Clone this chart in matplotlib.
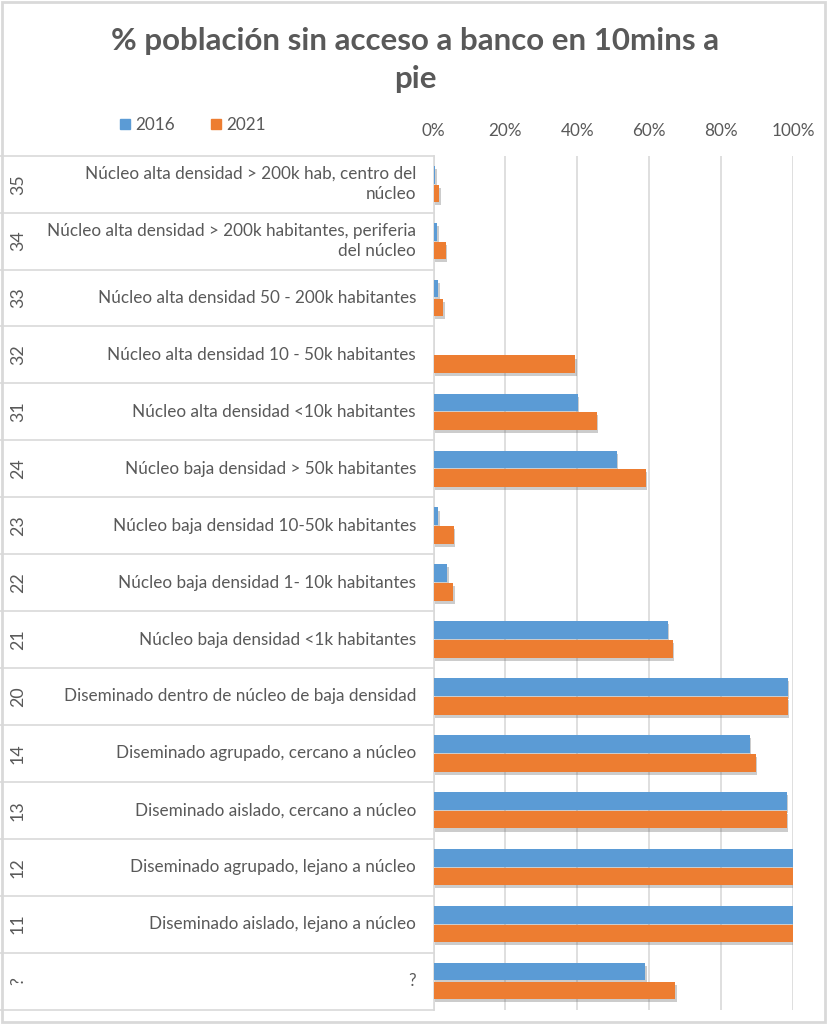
import matplotlib
matplotlib.use('Agg')
import matplotlib.pyplot as plt
import matplotlib.patheffects as pe
from matplotlib.patches import Patch, Rectangle
from matplotlib.lines import Line2D

# datos (fraccion de poblacion)
codigos = ['35', '34', '33', '32', '31', '24', '23', '22', '21', '20', '14', '13', '12', '11', '?']
etiquetas = ['Núcleo alta densidad > 200k hab, centro del\nnúcleo',
             'Núcleo alta densidad > 200k habitantes, periferia\ndel núcleo',
             'Núcleo alta densidad 50 - 200k habitantes',
             'Núcleo alta densidad 10 - 50k habitantes',
             'Núcleo alta densidad <10k habitantes',
             'Núcleo baja densidad > 50k habitantes',
             'Núcleo baja densidad 10-50k habitantes',
             'Núcleo baja densidad 1- 10k habitantes',
             'Núcleo baja densidad <1k habitantes',
             'Diseminado dentro de núcleo de baja densidad',
             'Diseminado agrupado, cercano a núcleo',
             'Diseminado aislado, cercano a núcleo',
             'Diseminado agrupado, lejano a núcleo',
             'Diseminado aislado, lejano a núcleo',
             '?']
v2016 = [0.005, 0.011, 0.013, 0.001, 0.402, 0.510, 0.013, 0.038, 0.651, 0.985, 0.880, 0.982, 1.0, 1.0, 0.589]
v2021 = [0.016, 0.034, 0.027, 0.394, 0.454, 0.590, 0.057, 0.055, 0.666, 0.985, 0.896, 0.982, 1.0, 1.0, 0.673]
ticks = [0, 0.2, 0.4, 0.6, 0.8, 1.0]

AZUL = '#5B9BD5'
NARANJA = '#ED7D31'
GRIS = '#595959'
LINEA = '#D9D9D9'

plt.rcParams['font.family'] = ['Lato', 'DejaVu Sans']

W, H = 827, 1024
fig = plt.figure(figsize=(W / 100, H / 100), dpi=100)

x0, x1 = 433.5, 793.0
ytop, ybot = 155.7, 1009.5
ax = fig.add_axes([x0 / W, 1 - ybot / H, (x1 - x0) / W, (ybot - ytop) / H])

y = list(range(len(codigos)))
# sombra suave como en excel
sombra = [pe.SimplePatchShadow(offset=(1.0, -2.2), shadow_rgbFace='#6f6f6f', alpha=0.35), pe.Normal()]
b1 = ax.barh([i - 0.165 for i in y], v2016, height=0.31, color=AZUL, zorder=3)
b2 = ax.barh([i + 0.165 for i in y], v2021, height=0.31, color=NARANJA, zorder=3)
for b in list(b1) + list(b2):
    b.set_path_effects(sombra)

ax.set_xlim(0, 1)
ax.set_ylim(len(codigos) - 0.5, -0.5)
ax.set_yticks([])
ax.set_xticks(ticks)
ax.set_xticklabels([f'{int(t * 100)}%' for t in ticks])
ax.xaxis.tick_top()
ax.tick_params(axis='x', length=0, pad=12, labelsize=12.3, labelcolor=GRIS)
ax.grid(True, axis='x', color=LINEA, lw=1.2, zorder=0)
for s in ['top', 'right', 'bottom']:
    ax.spines[s].set_visible(False)
ax.spines['left'].set_color(LINEA)
ax.spines['left'].set_linewidth(1.2)

# tabla de etiquetas a la izquierda
tr = ax.get_yaxis_transform()
xl = -x0 / (x1 - x0)
for k in range(len(codigos) + 1):
    ax.add_line(Line2D([xl, 0], [k - 0.5, k - 0.5], transform=tr, color=LINEA, lw=1.2, clip_on=False))
for i in y:
    ax.text((18 - x0) / (x1 - x0), i, codigos[i], transform=tr, rotation=90, ha='center', va='center',
            fontsize=12.8, color=GRIS)
    ax.text((416 - x0) / (x1 - x0), i, etiquetas[i], transform=tr, ha='right', va='center',
            fontsize=12.3, color=GRIS, multialignment='right', linespacing=1.35)

fig.text(415 / W, 1 - 60 / H, '% población sin acceso a banco en 10mins a\npie', ha='center', va='center',
         fontsize=22.5, fontweight='bold', color=GRIS, linespacing=1.4)

handles = [Patch(color=AZUL, label='2016'), Patch(color=NARANJA, label='2021')]
fig.legend(handles=handles, loc='center', bbox_to_anchor=(193 / W, 1 - 125 / H), ncol=2, frameon=False,
           fontsize=12.3, handlelength=0.6, handleheight=0.6, handletextpad=0.3, columnspacing=2.1,
           labelcolor=GRIS)

fig.patches.append(Rectangle((2 / W, 2 / H), (W - 4) / W, (H - 4) / H, transform=fig.transFigure,
                             fill=False, edgecolor=LINEA, lw=2))

fig.savefig('out.png', dpi=100)
